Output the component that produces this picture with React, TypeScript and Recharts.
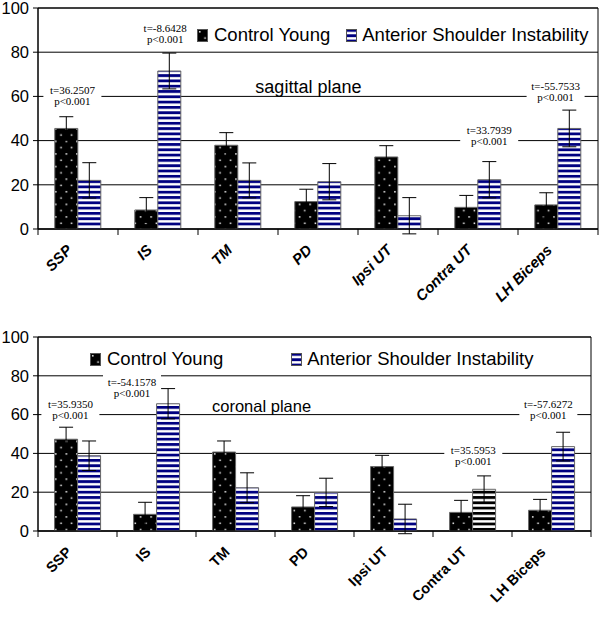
import React from 'react';
import {
  BarChart,
  Bar,
  XAxis,
  YAxis,
  CartesianGrid,
  ErrorBar,
  ReferenceArea,
  ReferenceDot,
  Legend,
  Cell,
} from 'recharts';

// muscles on the x axis
const categories = ['SSP', 'IS', 'TM', 'PD', 'Ipsi UT', 'Contra UT', 'LH Biceps'];

// sagittal plane (top chart)
const sagittalControl = [45.5, 8.6, 37.9, 12.4, 32.6, 9.8, 10.9];
const sagittalControlErr = [5.3, 5.6, 5.7, 5.6, 5.1, 5.4, 5.5];
const sagittalInstab = [22, 71.5, 22, 21.4, 6, 22.3, 45.5];
const sagittalInstabErr = [8, 8.1, 7.9, 8.2, 8.2, 8.2, 8.3];

// coronal plane (bottom chart)
const coronalControl = [47.3, 8.6, 40.7, 12.4, 33.2, 9.6, 10.7];
const coronalControlErr = [6.2, 6.2, 5.7, 5.8, 5.8, 6.2, 5.6];
const coronalInstab = [38.8, 65.6, 22.3, 19.9, 6.2, 21.5, 43.5];
const coronalInstabErr = [7.6, 7.8, 7.7, 7.3, 7.6, 6.9, 7.4];

const yTicks = [0, 20, 40, 60, 80, 100];

// t-test annotations: x is in category units (0..7), y in axis units
const sagittalStats = [
  { x: 0.43, y: 60.4, t: 't=36.2507' },
  { x: 1.59, y: 88.5, t: 't=-8.6428' },
  { x: 5.64, y: 42.1, t: 't=33.7939' },
  { x: 6.47, y: 62.4, t: 't=-55.7533' },
];
const coronalStats = [
  { x: 0.41, y: 62.4, t: 't=35.9350' },
  { x: 1.19, y: 74.2, t: 't=-54.1578' },
  { x: 5.51, y: 38.7, t: 't=35.5953' },
  { x: 6.46, y: 62.4, t: 't=-57.6272' },
];
const pValue = 'p<0.001';

const SANS = '"Liberation Sans", Arial, sans-serif';
const SERIF = '"Liberation Serif", "Times New Roman", serif';
const Y_AXIS_WIDTH = 38;
const CHART_WIDTH = 600;

const buildRows = (ctl: number[], ctlErr: number[], ins: number[], insErr: number[]) =>
  categories.map((name, i) => ({
    name,
    control: ctl[i],
    controlErr: ctlErr[i],
    instab: ins[i],
    instabErr: insErr[i],
  }));

const sagittalRows = buildRows(sagittalControl, sagittalControlErr, sagittalInstab, sagittalInstabErr);
const coronalRows = buildRows(coronalControl, coronalControlErr, coronalInstab, coronalInstabErr);

const Patterns = ({ id }: { id: string }) => (
  <defs>
    <pattern id={`dots-${id}`} width={10.6} height={12.6} patternUnits="userSpaceOnUse">
      <rect width={10.6} height={12.6} fill="#000" />
      <rect x={2} y={2} width={1.5} height={1.5} fill="#fff" />
      <rect x={7.3} y={8.3} width={1.5} height={1.5} fill="#fff" />
    </pattern>
    <pattern id={`navy-${id}`} width={4} height={5.3} patternUnits="userSpaceOnUse">
      <rect width={4} height={5.3} fill="#fff" />
      <rect width={4} height={2.8} fill="#000080" />
    </pattern>
    <pattern id={`black-${id}`} width={4} height={5.3} patternUnits="userSpaceOnUse">
      <rect width={4} height={5.3} fill="#fff" />
      <rect width={4} height={2.8} fill="#000" />
    </pattern>
  </defs>
);

// rotated label at the category centre, tick marks at the category boundaries
const CategoryTick = (props: any) => {
  const { x, y, payload, index, italic, band, fontSize } = props;
  const px = x - 5;
  const py = y + 22;
  const last = index === categories.length - 1;
  return (
    <g>
      <line x1={x - band / 2} x2={x - band / 2} y1={y} y2={y + 6} stroke="#000" />
      {last && <line x1={x + band / 2} x2={x + band / 2} y1={y} y2={y + 6} stroke="#000" />}
      <text
        x={px}
        y={py}
        transform={`rotate(-45, ${px}, ${py})`}
        textAnchor="end"
        fontFamily={SANS}
        fontSize={fontSize}
        fontWeight="bold"
        fontStyle={italic ? 'italic' : 'normal'}
        fill="#000"
      >
        {payload.value}
      </text>
    </g>
  );
};

const statShape = (t: string, dx: number) => (props: any) => {
  const cx = props.cx + dx;
  const { cy } = props;
  return (
    <g>
      <rect x={cx - 29} y={cy - 14} width={58} height={26} fill="#fff" />
      <text x={cx} y={cy - 1.5} textAnchor="middle" fontFamily={SERIF} fontSize={11} fill="#000">
        {t}
      </text>
      <text x={cx} y={cy + 9.5} textAnchor="middle" fontFamily={SERIF} fontSize={11} fill="#000">
        {pValue}
      </text>
    </g>
  );
};

const planeShape = (label: string, size: number, dx: number) => (props: any) => (
  <text x={props.cx + dx} y={props.cy + size * 0.35} textAnchor="middle" fontFamily={SANS} fontSize={size} fill="#000">
    {label}
  </text>
);

const LegendBox = ({ id, gap }: { id: string; gap: number }) => (
  <div style={{ display: 'flex', alignItems: 'center', fontFamily: SANS, fontSize: 18.5, whiteSpace: 'nowrap', color: '#000' }}>
    <svg width={11} height={13}>
      <rect x={0.5} y={0.5} width={10} height={12} fill={`url(#dots-${id})`} stroke="#555" />
    </svg>
    <span style={{ marginLeft: 6 }}>Control Young</span>
    <svg width={11} height={13} style={{ marginLeft: gap }}>
      <rect x={0.5} y={0.5} width={10} height={12} fill={`url(#navy-${id})`} stroke="#555" />
    </svg>
    <span style={{ marginLeft: 5 }}>Anterior Shoulder Instability</span>
  </div>
);

interface PanelProps {
  id: string;
  rows: typeof sagittalRows;
  stats: typeof sagittalStats;
  plane: string;
  planeX: number;
  planeY: number;
  planeSize: number;
  height: number;
  margin: { top: number; right: number; left: number; bottom: number };
  xAxisHeight: number;
  italic: boolean;
  labelSize: number;
  legendPos: { left: number; top: number };
  legendGap: number;
  blackStripe?: string;
}

const Panel: React.FC<PanelProps> = ({
  id, rows, stats, plane, planeX, planeY, planeSize, height, margin, xAxisHeight, italic, labelSize, legendPos, legendGap, blackStripe,
}) => {
  const band = (CHART_WIDTH - Y_AXIS_WIDTH - margin.left - margin.right) / categories.length;
  // convert a fractional category position into category + pixel shift from its centre
  const place = (x: number) => {
    const i = Math.min(Math.floor(x), categories.length - 1);
    return { cat: categories[i], dx: (x - i - 0.5) * band };
  };
  const planePos = place(planeX);
  return (
    <BarChart width={CHART_WIDTH} height={height} data={rows} margin={margin} barCategoryGap="21%" barGap={0}>
      <Patterns id={id} />
      <CartesianGrid vertical={false} stroke="#000" />
      <XAxis
        dataKey="name"
        interval={0}
        tickLine={false}
        tickSize={0}
        tickMargin={0}
        height={xAxisHeight}
        axisLine={{ stroke: '#000' }}
        tick={<CategoryTick italic={italic} band={band} fontSize={labelSize} />}
      />
      <YAxis
        width={Y_AXIS_WIDTH}
        domain={[0, 100]}
        allowDataOverflow
        ticks={yTicks}
        interval={0}
        tickSize={5}
        tickMargin={4}
        axisLine={{ stroke: '#000' }}
        tickLine={{ stroke: '#000' }}
        tick={{ fill: '#000', fontSize: 16.5, fontFamily: SANS }}
      />
      <ReferenceArea y1={0} y2={100} fill="none" stroke="#000" ifOverflow="visible" />
      {stats.map((s) => {
        const p = place(s.x);
        return <ReferenceDot key={s.t} x={p.cat} y={s.y} shape={statShape(s.t, p.dx)} ifOverflow="visible" />;
      })}
      <ReferenceDot x={planePos.cat} y={planeY} shape={planeShape(plane, planeSize, planePos.dx)} ifOverflow="visible" />
      <Bar dataKey="control" name="Control Young" fill={`url(#dots-${id})`} stroke="#666" isAnimationActive={false}>
        <ErrorBar dataKey="controlErr" width={7} stroke="#000" strokeWidth={1} />
      </Bar>
      <Bar dataKey="instab" name="Anterior Shoulder Instability" fill={`url(#navy-${id})`} stroke="#666" isAnimationActive={false}>
        {rows.map((r) => (
          <Cell key={r.name} fill={r.name === blackStripe ? `url(#black-${id})` : `url(#navy-${id})`} />
        ))}
        <ErrorBar dataKey="instabErr" width={7} stroke="#000" strokeWidth={1} />
      </Bar>
      <Legend
        layout="vertical"
        align="center"
        verticalAlign="middle"
        wrapperStyle={{ left: legendPos.left, top: legendPos.top, width: 'auto' }}
        content={() => <LegendBox id={id} gap={legendGap} />}
      />
    </BarChart>
  );
};

export default function App() {
  return (
    <div style={{ position: 'absolute', left: 0, top: 0, width: 600, height: 617, background: '#fff' }}>
      <div style={{ position: 'absolute', left: 0, top: 300 }}>
        <Panel
          id="cor"
          rows={coronalRows}
          stats={coronalStats}
          plane="coronal plane"
          planeX={2.83}
          planeY={64.4}
          planeSize={16.5}
          height={317}
          margin={{ top: 37, right: 9, left: 0, bottom: 0 }}
          xAxisHeight={86}
          italic={false}
          labelSize={14.5}
          legendPos={{ left: 90, top: 48 }}
          legendGap={68}
          blackStripe="Contra UT"
        />
      </div>
      <div style={{ position: 'absolute', left: 0, top: 0 }}>
        <Panel
          id="sag"
          rows={sagittalRows}
          stats={sagittalStats}
          plane="sagittal plane"
          planeX={3.38}
          planeY={64.3}
          planeSize={18}
          height={318}
          margin={{ top: 8, right: 2, left: 0, bottom: 0 }}
          xAxisHeight={89}
          italic
          labelSize={15}
          legendPos={{ left: 197, top: 24 }}
          legendGap={16}
        />
      </div>
    </div>
  );
}
